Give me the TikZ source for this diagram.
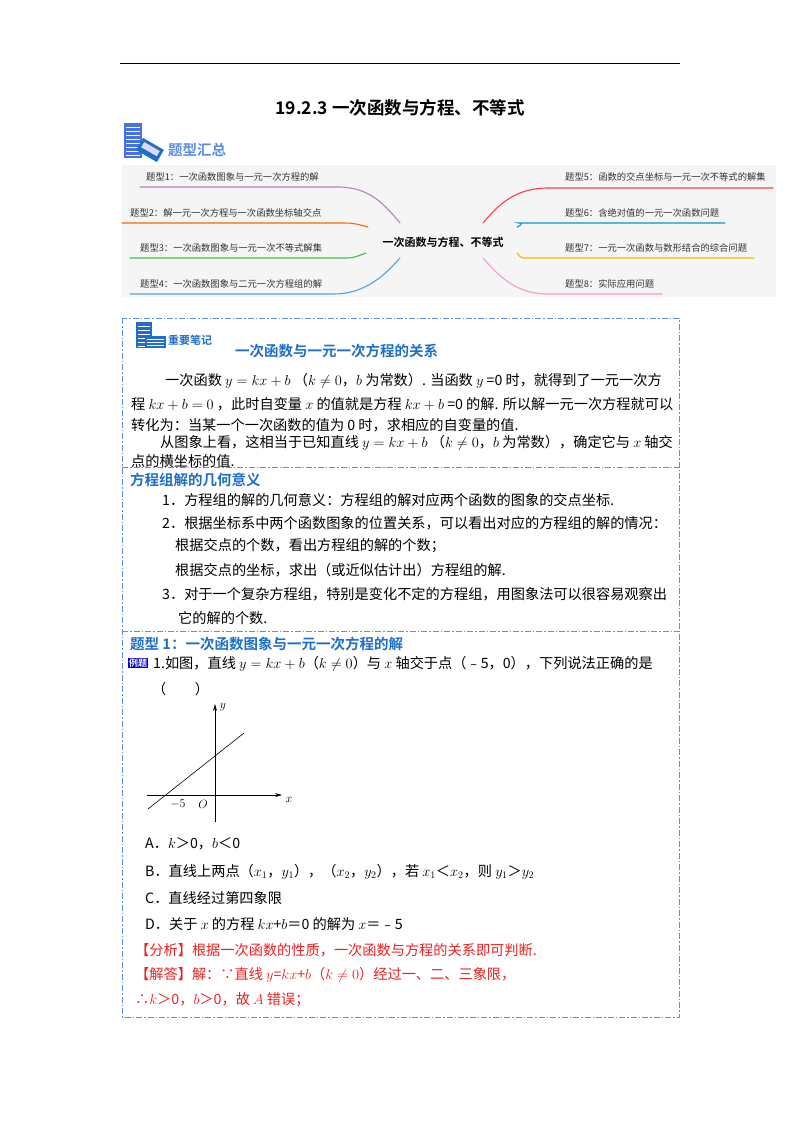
\documentclass[tikz,border=0pt]{standalone}
\usepackage{fontspec}
\newfontfamily\cjk{Noto Sans CJK SC}[BoldFont={Noto Sans CJK SC Bold}]
\usetikzlibrary{arrows.meta}
\definecolor{hblue}{HTML}{1F6FC8}
\definecolor{bord}{HTML}{5B8EE0}
\definecolor{ired}{HTML}{EE2020}
\tikzset{
 tx/.style={anchor=west,inner sep=0pt,font=\cjk\fontsize{14.2}{16}\selectfont},
 mm/.style={anchor=west,inner sep=0pt,font=\cjk\fontsize{9.3}{11}\selectfont,text=black!80},
 hd/.style={anchor=west,inner sep=0pt,font=\cjk\bfseries\fontsize{14.5}{16}\selectfont,text=hblue},
 rd/.style={tx,text=ired},
 br/.style={line width=1.1pt,line cap=round},
 dd/.style={bord,line width=0.8pt,dash pattern=on 6pt off 2pt on 1.5pt off 2pt},
}
\begin{document}
\begin{tikzpicture}[x=1pt,y=-1pt]
\useasboundingbox (0,0) rectangle (800,1132);
\fill[white] (0,0) rectangle (800,1132);
\draw[line width=0.8pt] (120,63) -- (680,63);
\node[inner sep=0pt,font=\cjk\bfseries\fontsize{17.5}{19}\selectfont] (title) at (400,108) {19.2.3 一次函数与方程、不等式};
% icon 1
\fill[bord!80!blue] (124,123) rectangle (142,158);
\foreach \yy in {127,131,...,155} \draw[white,line width=0.6pt] (126,\yy) -- (140,\yy);
\fill[hblue,rotate around={-30:(150,150)}] (138,143) rectangle (162,157);
\fill[white!85!blue,rotate around={-30:(150,150)}] (141,146) rectangle (159,152);
\node[hd,font=\cjk\bfseries\fontsize{14.5}{16}\selectfont,text=bord] (t1) at (168,150) {题型汇总};
% mind map
\fill[black!4] (122,165) rectangle (776,297);
\node[inner sep=2pt,font=\cjk\bfseries\fontsize{11}{12}\selectfont] (ctr) at (443,242) {一次函数与方程、不等式};
\coordinate (l1) at (140,187); \coordinate (l2) at (122,223); \coordinate (l3) at (130,258); \coordinate (l4) at (130,294);
\coordinate (r1) at (773,188); \coordinate (r2) at (725,223); \coordinate (r3) at (754,258); \coordinate (r4) at (662,294);
\draw[br,color=violet!50] (l1) -- (338,187) .. controls (370,187) and (385,205) .. (400,223);
\draw[br,color=orange!80!red] (l2) -- (345,223) .. controls (355,223) and (360,225) .. (368,227);
\draw[br,color=green!60!black!70] (l3) -- (347,258) .. controls (355,258) and (360,255) .. (366,253);
\draw[br,color=cyan!70!blue!70] (l4) -- (334,294) .. controls (365,294) and (385,275) .. (400,258);
\draw[br,color=red!75] (r1) -- (548,188) .. controls (515,188) and (498,205) .. (483,223);
\draw[br,color=cyan!80!blue] (r2) -- (519,223) .. controls (524,223) and (520,226) .. (517,227);
\draw[br,color=orange!60!yellow] (r3) -- (523,258) .. controls (520,258) and (519,255) .. (517,253);
\draw[br,color=magenta!40] (r4) -- (548,294) .. controls (515,294) and (498,275) .. (483,258);
\node[mm] (m1) at (146,177) {题型1：一次函数图象与一元一次方程的解};
\node[mm] (m2) at (130,213) {题型2：解一元一次方程与一次函数坐标轴交点};
\node[mm] (m3) at (140,248) {题型3：一次函数图象与一元一次不等式解集};
\node[mm] (m4) at (140,284) {题型4：一次函数图象与二元一次方程组的解};
\node[mm] (m5) at (565,177) {题型5：函数的交点坐标与一元一次不等式的解集};
\node[mm] (m6) at (565,213) {题型6：含绝对值的一元一次函数问题};
\node[mm] (m7) at (565,248) {题型7：一元一次函数与数形结合的综合问题};
\node[mm] (m8) at (565,284) {题型8：实际应用问题};
% frame
\draw[dd] (122,318) rectangle (679,1017);
\draw[dd] (122,467) -- (679,467);
\draw[dd] (122,631) -- (679,631);
% icon 2
\fill[hblue] (136,322) rectangle (152,348);
\foreach \yy in {326,330,...,346} \draw[white,line width=0.6pt] (138,\yy) -- (150,\yy);
\fill[hblue] (145,336) rectangle (166,348);
\foreach \yy in {339,342,345} \draw[white,line width=0.5pt] (147,\yy) -- (164,\yy);
\node[hd,font=\cjk\bfseries\fontsize{11}{12}\selectfont,text=hblue] (t2) at (168,340) {重要笔记};
\node[hd] (h1) at (235,351) {一次函数与一元一次方程的关系};
\node[tx] (p1) at (165,381) {一次函数 $y=kx+b$ （$k\neq0$，$b$ 为常数）. 当函数 $y$ =0 时，就得到了一元一次方};
\node[tx] (p2) at (131,404) {程 $kx+b=0$ ，此时自变量 $x$ 的值就是方程 $kx+b$ =0 的解. 所以解一元一次方程就可以};
\node[tx] (p3) at (131,425) {转化为：当某一个一次函数的值为 0 时，求相应的自变量的值.};
\node[tx] (p4) at (160,443) {从图象上看，这相当于已知直线 $y=kx+b$ （$k\neq0$，$b$ 为常数），确定它与 $x$ 轴交};
\node[tx] (p5) at (131,461) {点的横坐标的值.};
\node[hd] (h2) at (130,480) {方程组解的几何意义};
\node[tx] (q1) at (162,500) {1．方程组的解的几何意义：方程组的解对应两个函数的图象的交点坐标.};
\node[tx] (q2) at (162,523) {2．根据坐标系中两个函数图象的位置关系，可以看出对应的方程组的解的情况：};
\node[tx] (q3) at (175,546) {根据交点的个数，看出方程组的解的个数；};
\node[tx] (q4) at (175,570) {根据交点的坐标，求出（或近似估计出）方程组的解.};
\node[tx] (q5) at (162,594) {3．对于一个复杂方程组，特别是变化不定的方程组，用图象法可以很容易观察出};
\node[tx] (q6) at (178,618) {它的解的个数.};
\node[hd] (h3) at (130,644) {题型 1：一次函数图象与一元一次方程的解};
\node[anchor=west,fill=blue!80!black,text=white,inner sep=1pt,font=\cjk\bfseries\fontsize{9}{10}\selectfont] (ex) at (128,663) {例题};
\node[tx] (e1) at (153,664) {1.如图，直线 $y=kx+b$（$k\neq0$）与 $x$ 轴交于点（﹣5，0），下列说法正确的是};
\node[tx] (e2) at (152,689) {（\quad\quad）};
% graph
\coordinate (yb) at (215,822); \coordinate (yt) at (215,704);
\coordinate (xl) at (147,795); \coordinate (xr) at (282,795);
\coordinate (la) at (148,809); \coordinate (lb) at (244,733);
\draw[-{Stealth[length=7pt,width=4pt]},line width=0.7pt] (yb) -- (yt);
\draw[-{Stealth[length=7pt,width=4pt]},line width=0.7pt] (xl) -- (xr);
\draw[line width=0.6pt] (la) -- (lb);
\node[inner sep=0pt,font=\fontsize{13}{13}\selectfont] (ly) at (223,707) {$y$};
\node[inner sep=0pt,font=\fontsize{13}{13}\selectfont] (lx) at (289,800) {$x$};
\node[inner sep=0pt,font=\fontsize{13}{13}\selectfont] (l5) at (178,804) {$-5$};
\node[inner sep=0pt,font=\fontsize{13}{13}\selectfont] (lo) at (203,804) {$O$};
\node[tx] (oa) at (145,844) {A．$k$＞0，$b$＜0};
\node[tx] (ob) at (145,872) {B．直线上两点（$x_1$，$y_1$），（$x_2$，$y_2$），若 $x_1$＜$x_2$，则 $y_1$＞$y_2$};
\node[tx] (oc) at (145,898) {C．直线经过第四象限};
\node[tx] (od) at (145,924) {D．关于 $x$ 的方程 $kx$+$b$＝0 的解为 $x$＝﹣5};
\node[rd] (fa) at (135,950) {【分析】根据一次函数的性质，一次函数与方程的关系即可判断.};
\node[rd] (ja) at (135,975) {【解答】解：∵直线 $y$=$kx$+$b$（$k\neq0$）经过一、二、三象限，};
\node[rd] (jb) at (135,1000) {∴$k$＞0，$b$＞0，故 $A$ 错误；};
\end{tikzpicture}
\end{document}
